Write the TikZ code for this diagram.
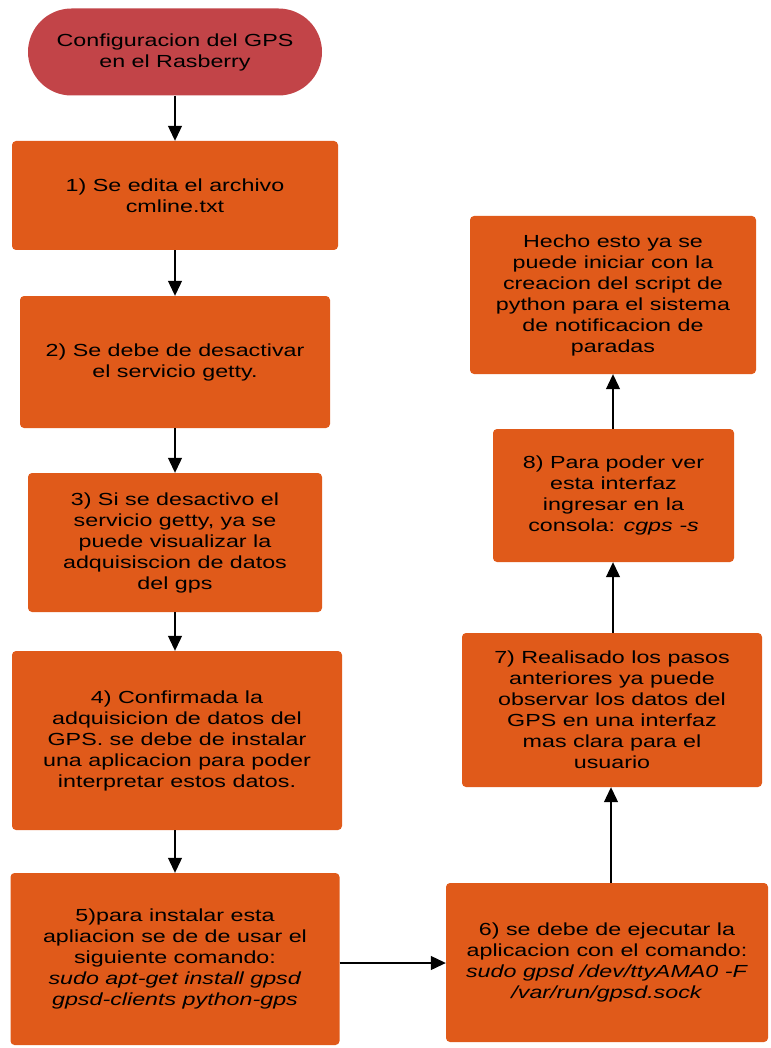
\documentclass[tikz,border=0pt]{standalone}
\usepackage{fontspec}
\setmainfont{Liberation Sans}[FakeStretch=1.33]
\usetikzlibrary{arrows.meta,shapes.misc}
\definecolor{boxor}{RGB}{224,90,26}
\definecolor{startred}{RGB}{194,68,72}
\tikzset{
  stepbox/.style={fill=boxor, draw=none, rounded corners=4pt, align=center, inner sep=0pt,
    font=\fontsize{17.5}{21}\selectfont},
  startnode/.style={fill=startred, draw=none, rounded rectangle, align=center, inner sep=0pt,
    font=\fontsize{17.5}{21}\selectfont},
  conn/.style={draw=black, line width=1.1pt, -{Triangle[length=15pt,width=14pt]}}
}
\begin{document}
\begin{tikzpicture}[x=1pt,y=-1pt]
\useasboundingbox (0,0) rectangle (770,1048);
\node[startnode, minimum width=294pt, minimum height=87pt] (s) at (175,52)
  {Configuracion del GPS\\en el Rasberry};
\node[stepbox, minimum width=326pt, minimum height=109pt] (b1) at (175,195.5)
  {1) Se edita el archivo\\cmline.txt};
\node[stepbox, minimum width=310pt, minimum height=132pt] (b2) at (175,362)
  {2) Se debe de desactivar\\el servicio getty.};
\node[stepbox, minimum width=294pt, minimum height=139pt] (b3) at (175,542.5)
  {3) Si se desactivo el\\servicio getty, ya se\\puede visualizar la\\adquisiscion de datos\\del gps};
\node[stepbox, minimum width=330pt, minimum height=179pt] (b4) at (177,740.5)
  {4) Confirmada la\\adquisicion de datos del\\GPS. se debe de instalar\\una aplicacion para poder\\interpretar estos datos.};
\node[stepbox, minimum width=329pt, minimum height=172pt] (b5) at (175,959)
  {5)para instalar esta\\apliacion se de de usar el\\siguiente comando:\\\textit{sudo apt-get install gpsd}\\\textit{gpsd-clients python-gps}};
\node[stepbox, minimum width=322pt, minimum height=159pt] (b6) at (607,962.5)
  {6) se debe de ejecutar la\\aplicacion con el comando:\\\textit{sudo gpsd /dev/ttyAMA0 -F}\\\textit{/var/run/gpsd.sock}};
\node[stepbox, minimum width=300pt, minimum height=154pt] (b7) at (612,710)
  {7) Realisado los pasos\\anteriores ya puede\\observar los datos del\\GPS en una interfaz\\mas clara para el\\usuario};
\node[stepbox, minimum width=241pt, minimum height=133pt] (b8) at (613.5,495.5)
  {8) Para poder ver\\esta interfaz\\ingresar en la\\consola: \textit{cgps -s}};
\node[stepbox, minimum width=286pt, minimum height=158pt] (b9) at (613,295)
  {Hecho esto ya se\\puede iniciar con la\\creacion del script de\\python para el sistema\\de notificacion de\\paradas};
\draw[conn] (s.south -| b1.north) -- (b1.north);
\draw[conn] (b1.south) -- (b2.north);
\draw[conn] (b2.south) -- (b3.north);
\draw[conn] (b3.south) -- (b4.north -| b3.south);
\draw[conn] (b4.south -| b5.north) -- (b5.north);
\draw[conn] (b5.east |- 0,963) -- (b6.west |- 0,963);
\draw[conn] (b6.north -| 611,0) -- (b7.south -| 611,0);
\draw[conn] (b7.north -| 613,0) -- (b8.south -| 613,0);
\draw[conn] (b8.north -| 613,0) -- (b9.south -| 613,0);
\end{tikzpicture}
\end{document}
